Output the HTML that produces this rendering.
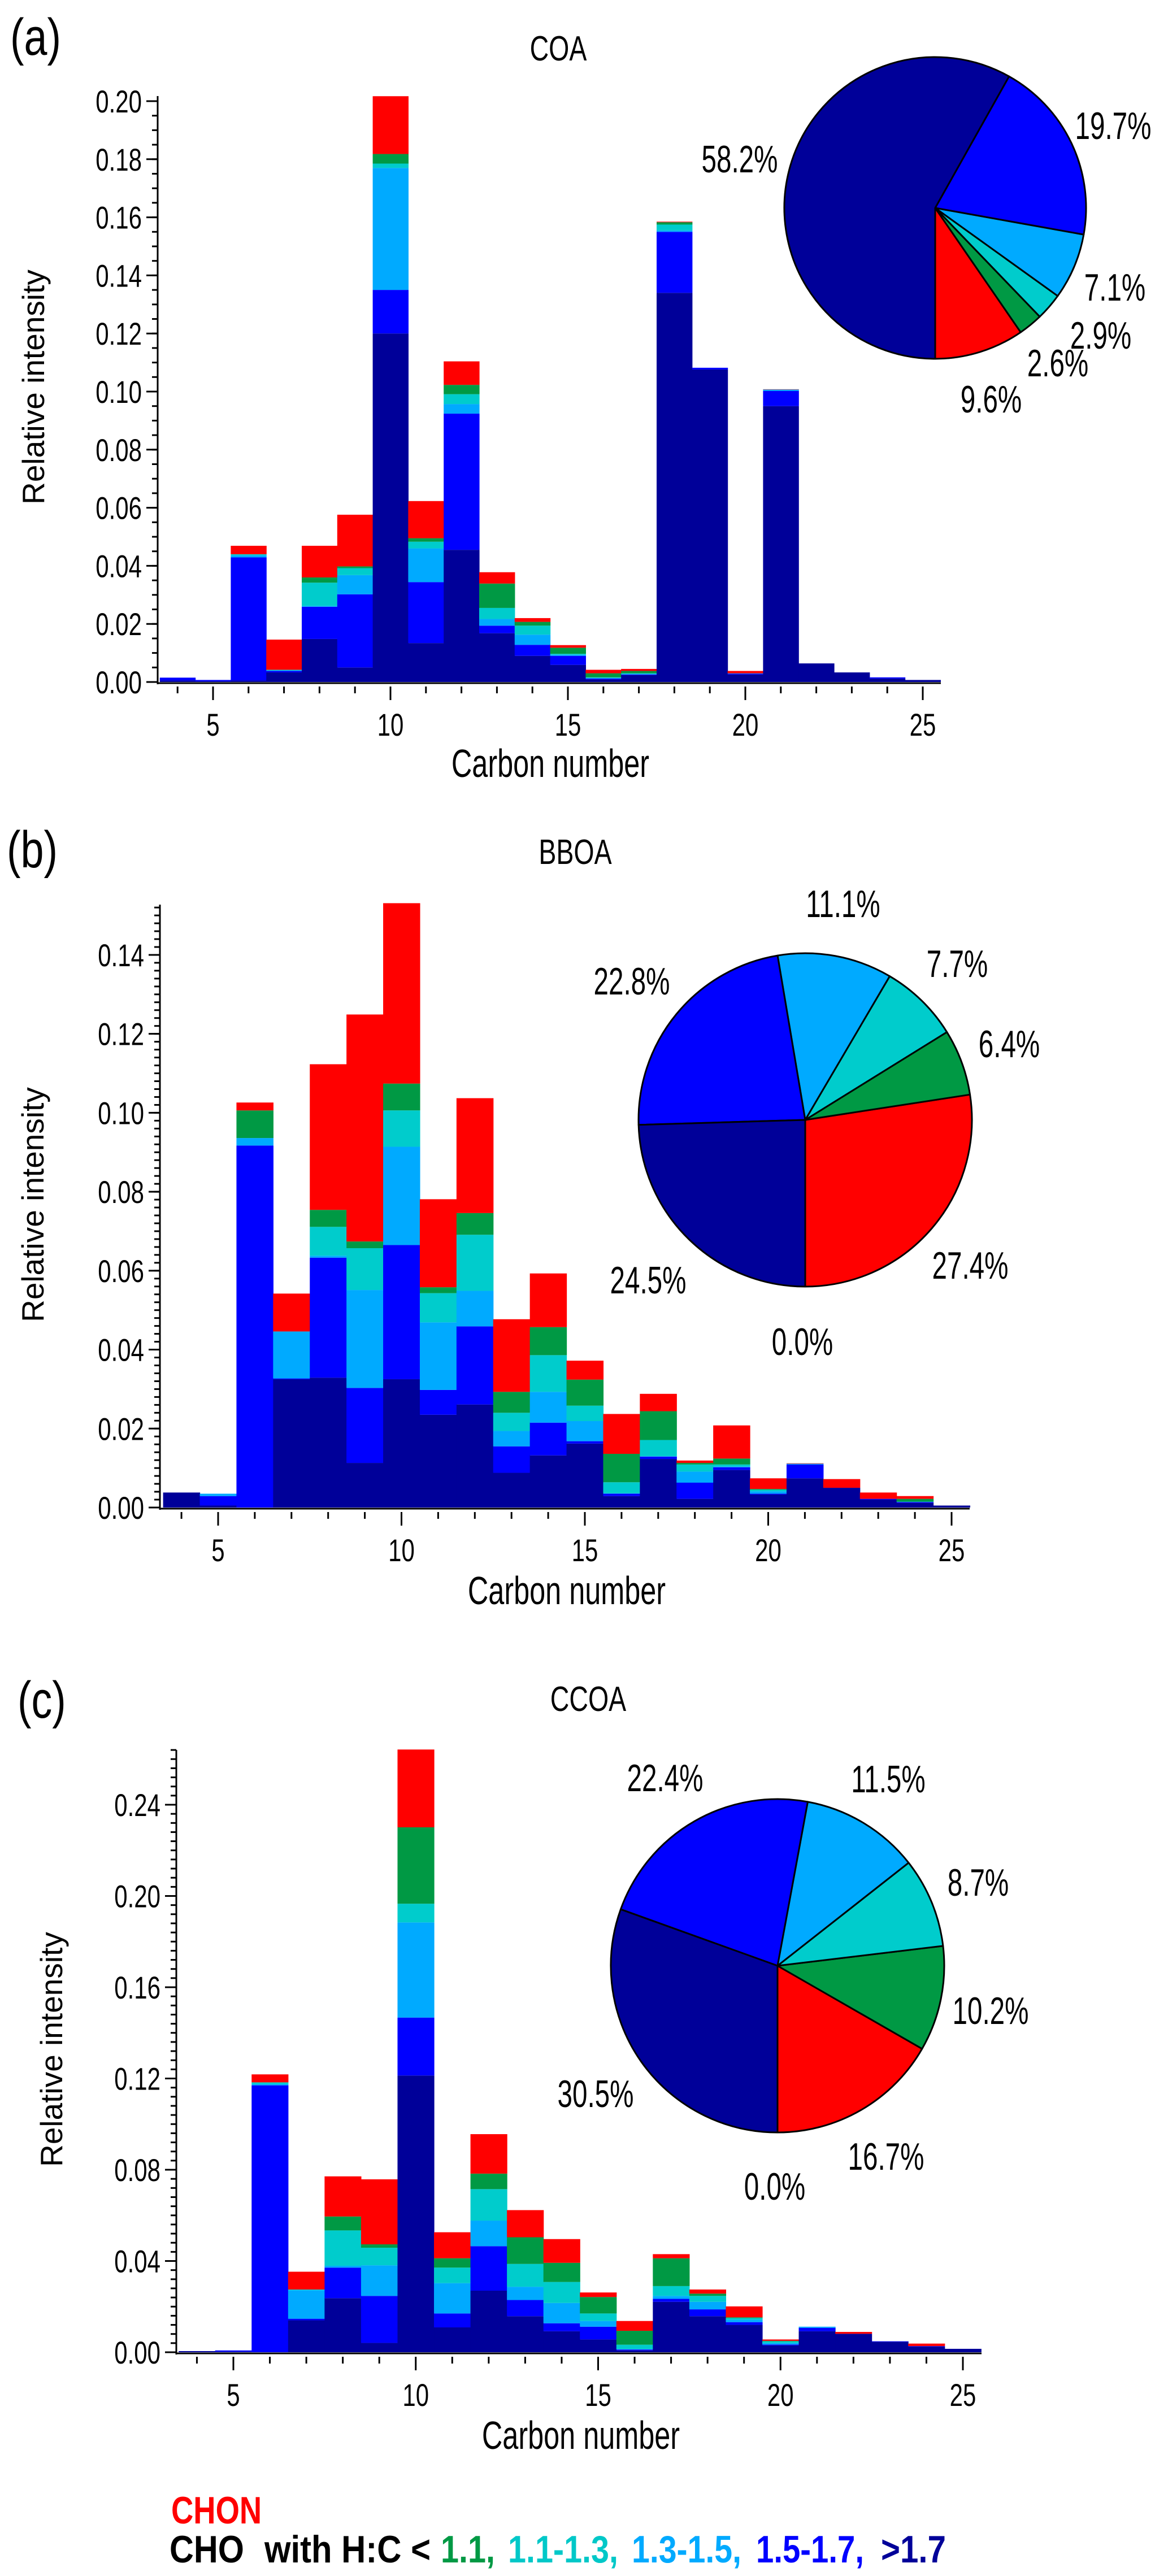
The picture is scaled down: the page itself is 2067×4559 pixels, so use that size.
<!DOCTYPE html>
<html><head><meta charset="utf-8"><style>
html,body{margin:0;padding:0;background:#fff;}
svg{display:block;}
text{font-family:"Liberation Sans",sans-serif;fill:#000;}
</style></head><body>
<svg id="fig" width="2067" height="4559" viewBox="0 0 2067 4559" xmlns="http://www.w3.org/2000/svg">
<text class="cond" data-f="0.8" x="18" y="97" font-size="92">(a)</text>
<text class="cond" data-f="0.8" x="12" y="1535" font-size="92">(b)</text>
<text class="cond" data-f="0.8" x="31" y="3040" font-size="92">(c)</text>
<text class="cond" data-f="0.75" x="988" y="107" font-size="62" text-anchor="middle">COA</text>
<text class="cond" data-f="0.75" x="1018" y="1529" font-size="62" text-anchor="middle">BBOA</text>
<text class="cond" data-f="0.75" x="1041" y="3028" font-size="62" text-anchor="middle">CCOA</text>
<g id="legend">
<text class="cond" data-f="0.8" x="303" y="4466" font-size="68" font-weight="bold" style="fill:#ff0000">CHON</text>
<text font-size="68" font-weight="bold" y="4535"><tspan x="300" textLength="132" lengthAdjust="spacingAndGlyphs">CHO</tspan><tspan x="468" textLength="294" lengthAdjust="spacingAndGlyphs">with H:C &lt;</tspan><tspan x="780" textLength="96" lengthAdjust="spacingAndGlyphs" style="fill:#009944">1.1,</tspan><tspan x="899" textLength="195" lengthAdjust="spacingAndGlyphs" style="fill:#00c8c8">1.1-1.3,</tspan><tspan x="1118" textLength="194" lengthAdjust="spacingAndGlyphs" style="fill:#00aaff">1.3-1.5,</tspan><tspan x="1338" textLength="191" lengthAdjust="spacingAndGlyphs" style="fill:#0000ff">1.5-1.7,</tspan><tspan x="1559" textLength="115" lengthAdjust="spacingAndGlyphs" style="fill:#000099">&gt;1.7</tspan></text>
</g>
</svg>
<script>
const carbons=[4,5,6,7,8,9,10,11,12,13,14,15,16,17,18,19,20,21,22,23,24,25];
const layerNames=['navy','blue','lightblue','cyan','green','red'];
const layerColors=['#000099','#0000ff','#00aaff','#00cccc','#009944','#ff0000'];
// COA layer tops (cumulative)
const coaNavy=[.0005,.0003,.0005,.0033,.0148,.005,.120,.0134,.0455,.0168,.009,.0059,.0009,.0024,.134,.1076,.0026,.095,.0064,.0033,.0012,.0007];
const coaBlue=[.0015,.0007,.0429,.0038,.0259,.0302,.135,.0344,.0924,.0194,.0128,.009,.0012,.0026,.155,.1082,.0029,.1002,.0064,.0033,.0016,.0007];
const coaLightBlue=[.0015,.0007,.0436,.0040,.0262,.0368,.177,.046,.0957,.0217,.0163,.0094,.0014,.0028,.1555,.1082,.0029,.1007,.0064,.0033,.0016,.0007];
const coaCyan=[.0015,.0007,.044,.0042,.0342,.0392,.1785,.0483,.0991,.0255,.0194,.0097,.0016,.003,.1575,.1082,.003,.1007,.0064,.0033,.0016,.0007];
const coaGreen=[.0015,.0007,.044,.0042,.036,.0398,.1818,.0495,.1023,.0339,.0207,.0118,.003,.0038,.1583,.1082,.003,.1007,.0064,.0033,.0016,.0007];
const coaRed=[.0015,.0007,.0469,.0146,.0469,.0576,.2017,.0623,.1104,.0378,.022,.0127,.0042,.0045,.1585,.1082,.0038,.1008,.0064,.0033,.0016,.0007];
// BBOA
const bboaNavy=[.0038,.0005,0,.0325,.0329,.0113,.0325,.0235,.0261,.0088,.0132,.0162,.0029,.0123,.0022,.0095,.0033,.0074,.005,.002,.0012,.0005];
const bboaBlue=[.0038,.0029,.0917,.0327,.0633,.0303,.0665,.0298,.0459,.0155,.0215,.0168,.0035,.0129,.0063,.0102,.0035,.0109,.005,.0022,.0014,.0005];
const bboaLightBlue=[.0038,.0035,.0936,.0446,.0638,.0551,.0914,.0469,.0549,.0194,.0293,.0219,.0036,.013,.0091,.0104,.0041,.0111,.005,.0022,.0014,.0005];
const bboaCyan=[.0038,.0035,.0936,.0446,.0711,.0657,.1006,.0543,.0691,.024,.0386,.0258,.0064,.0171,.0109,.0109,.0045,.0111,.005,.0022,.0015,.0005];
const bboaGreen=[.0038,.0035,.1006,.0446,.0754,.0674,.1074,.0558,.0746,.0293,.0457,.0324,.0136,.0244,.0113,.0124,.0047,.0111,.005,.0022,.0022,.0005];
const bboaRed=[.0038,.0035,.1026,.0542,.1123,.1249,.1531,.0781,.1037,.0477,.0593,.0372,.0237,.0288,.0119,.0208,.0074,.0112,.0072,.0038,.0029,.0005];
// CCOA
const ccoaNavy=[.0005,.0003,0,.014,.0237,.0041,.1213,.0109,.027,.0158,.0092,.0056,.0008,.0221,.0158,.012,.003,.0092,.0081,.0046,.0025,.0015];
const ccoaBlue=[.0005,.0008,.117,.0147,.0371,.0247,.1467,.017,.0465,.0229,.0127,.0112,.0012,.0234,.0188,.0132,.0034,.0107,.0081,.0048,.0027,.0015];
const ccoaLightBlue=[.0005,.0008,.1175,.0272,.0379,.0381,.1884,.0303,.0577,.0287,.0216,.0137,.0014,.0247,.0221,.0142,.004,.0112,.0081,.0048,.0027,.0015];
const ccoaCyan=[.0005,.0008,.1183,.0275,.0534,.0458,.1966,.0371,.0715,.0387,.0308,.017,.0033,.029,.0247,.015,.0048,.0112,.0081,.0048,.0027,.0015];
const ccoaGreen=[.0005,.0008,.1183,.0275,.0595,.0473,.2301,.0412,.0783,.0504,.0392,.0242,.0094,.0412,.0257,.0153,.005,.0112,.0081,.0048,.0027,.0015];
const ccoaRed=[.0005,.0008,.1218,.0353,.0771,.0758,.2642,.0526,.0956,.0623,.0496,.0262,.0137,.043,.0275,.0201,.0056,.0112,.0089,.0048,.0038,.0015];
// pie shares (red, green, cyan, lightblue, blue, navy)
const pieOrderColors=['#ff0000','#009944','#00cccc','#00aaff','#0000ff','#000099'];
const coaPie=[9.6,2.6,2.9,7.1,19.7,58.2];
const bboaPie=[27.4,6.4,7.7,11.1,22.8,24.5];
const ccoaPie=[16.7,10.2,8.7,11.5,22.4,30.5];
const coaPieLabels=['9.6%','2.6%','2.9%','7.1%','19.7%','58.2%'];
const bboaPieLabels=['27.4%','6.4%','7.7%','11.1%','22.8%','24.5%','0.0%'];
const ccoaPieLabels=['16.7%','10.2%','8.7%','11.5%','22.4%','30.5%','0.0%'];
const xTickLabels=[5,10,15,20,25];
const coaYTicks=[0,.02,.04,.06,.08,.10,.12,.14,.16,.18,.20];
const bboaYTicks=[0,.02,.04,.06,.08,.10,.12,.14];
const ccoaYTicks=[0,.04,.08,.12,.16,.20,.24];

const NS='http://www.w3.org/2000/svg';
const svg=document.getElementById('fig');
function mk(tag,attrs,parent){const e=document.createElementNS(NS,tag);for(const k in attrs)e.setAttribute(k,attrs[k]);(parent||svg).appendChild(e);return e;}

function drawPanel(cfg){
  const g=mk('g',{});
  
  
  const xs=c=>cfg.x5+(c-5)*cfg.dx;
  const ys=v=>cfg.y0-v*cfg.ky;
  carbons.forEach((c,i)=>{
    let prev=0;
    cfg.layers.forEach((arr,li)=>{
      const top=Math.max(arr[i],prev);
      if(top>prev){
        const r=mk('rect',{x:xs(c-0.5),y:ys(top),width:cfg.dx+0.6,height:ys(prev)-ys(top),fill:layerColors[li]},g);
        
        
      }
      prev=top;
    });
  });
  const ax=mk('g',{stroke:'#000','stroke-width':3},g);
  
  
  mk('line',{x1:cfg.axX,y1:cfg.yTop,x2:cfg.axX,y2:cfg.y0+4},ax);
  mk('line',{x1:cfg.axX,y1:cfg.y0+2,x2:cfg.xEnd,y2:cfg.y0+2},ax);
  const maxV=(cfg.y0-cfg.yTop)/cfg.ky;
  for(let k=0;k*cfg.minor<=maxV+1e-9;k++){
    const v=k*cfg.minor;
    mk('line',{x1:cfg.axX-10,y1:ys(v),x2:cfg.axX,y2:ys(v)},ax);
  }
  cfg.yticks.forEach(v=>{
    mk('line',{x1:cfg.axX-20,y1:ys(v),x2:cfg.axX,y2:ys(v)},ax);
    const t=mk('text',{x:cfg.axX-28,y:ys(v)+20,'font-size':56,'text-anchor':'end',class:'cond','data-f':'0.75'},g);
    t.textContent=v.toFixed(2);
    
    
  });
  for(let c=4;c<=25;c++){
    const major=c%5===0;
    mk('line',{x1:xs(c),y1:cfg.y0+8,x2:xs(c),y2:cfg.y0+(major?32:20)},ax);
  }
  xTickLabels.forEach(c=>{
    const t=mk('text',{x:xs(c),y:cfg.y0+95,'font-size':56,'text-anchor':'middle',class:'cond','data-f':'0.75'},g);
    t.textContent=c;
    
    
  });
  const xt=mk('text',{x:cfg.xtX,y:cfg.xtY+3,'font-size':70,'text-anchor':'middle',class:'cond','data-f':'0.72'},g);
  xt.textContent='Carbon number';
  
  
  const yt=mk('text',{x:0,y:0,'font-size':55,'text-anchor':'middle',transform:`translate(${cfg.ytX},${cfg.ytY}) rotate(-90)`},g);
  yt.textContent='Relative intensity';
  
  
  const pg=mk('g',{},g);
  
  
  let a=Math.PI/2;
  const total=cfg.pie.reduce((s,v)=>s+v,0);
  cfg.pie.forEach((p,i)=>{
    const a2=a-p/total*2*Math.PI;
    const x1=cfg.pcx+cfg.pr*Math.cos(a),y1=cfg.pcy+cfg.pr*Math.sin(a);
    const x2=cfg.pcx+cfg.pr*Math.cos(a2),y2=cfg.pcy+cfg.pr*Math.sin(a2);
    const large=(a-a2)>Math.PI?1:0;
    const s=mk('path',{d:`M${cfg.pcx},${cfg.pcy} L${x1},${y1} A${cfg.pr},${cfg.pr} 0 ${large} 0 ${x2},${y2} Z`,fill:pieOrderColors[i],stroke:'#000','stroke-width':3,'stroke-linejoin':'round'},pg);
    
    
    a=a2;
  });
  cfg.labels.forEach((txt,i)=>{
    const pos=cfg.labelPos[i];
    const t=mk('text',{x:pos[0],y:pos[1]+25,'font-size':68,'text-anchor':'middle',class:'cond','data-f':'0.7'},pg);
    t.textContent=txt;
    
    
  });
}

drawPanel({name:'coa',x5:377,dx:62.8,axX:279,xEnd:1665,y0:1207,ky:5140,yTop:170,minor:0.005,yticks:coaYTicks,
  layers:[coaNavy,coaBlue,coaLightBlue,coaCyan,coaGreen,coaRed],
  xtX:974,xtY:1372,ytX:78,ytY:685,
  pie:coaPie,pcx:1655,pcy:368,pr:267,labels:coaPieLabels,
  labelPos:[[1754,705],[1872,641],[1948,592],[1973,507],[1970,221],[1309,280]]});
drawPanel({name:'bboa',x5:386,dx:64.9,axX:283,xEnd:1716,y0:2668,ky:6986,yTop:1601,minor:0.002,yticks:bboaYTicks,
  layers:[bboaNavy,bboaBlue,bboaLightBlue,bboaCyan,bboaGreen,bboaRed],
  xtX:1003,xtY:2836,ytX:77,ytY:2132,
  pie:bboaPie,pcx:1425,pcy:1982,pr:295,labels:bboaPieLabels,
  labelPos:[[1717,2238],[1786,1846],[1694,1704],[1492,1598],[1118,1735],[1147,2264],[1420,2373]]});
drawPanel({name:'ccoa',x5:413,dx:64.55,axX:312,xEnd:1737,y0:4163,ky:4037.5,yTop:3097,minor:0.004,yticks:ccoaYTicks,
  layers:[ccoaNavy,ccoaBlue,ccoaLightBlue,ccoaCyan,ccoaGreen,ccoaRed],
  xtX:1028,xtY:4331,ytX:110,ytY:3627,
  pie:ccoaPie,pcx:1376,pcy:3479,pr:295,labels:ccoaPieLabels,
  labelPos:[[1568,3815],[1753,3557],[1731,3330],[1572,3147],[1177,3145],[1054,3704],[1371,3868]]});

document.querySelectorAll('text.cond').forEach(t=>{
  const f=parseFloat(t.getAttribute('data-f'))||0.8;
  const w=t.getComputedTextLength();
  if(w>0){t.setAttribute('textLength',(w*f).toFixed(1));t.setAttribute('lengthAdjust','spacingAndGlyphs');}
});
</script>
</body></html>
